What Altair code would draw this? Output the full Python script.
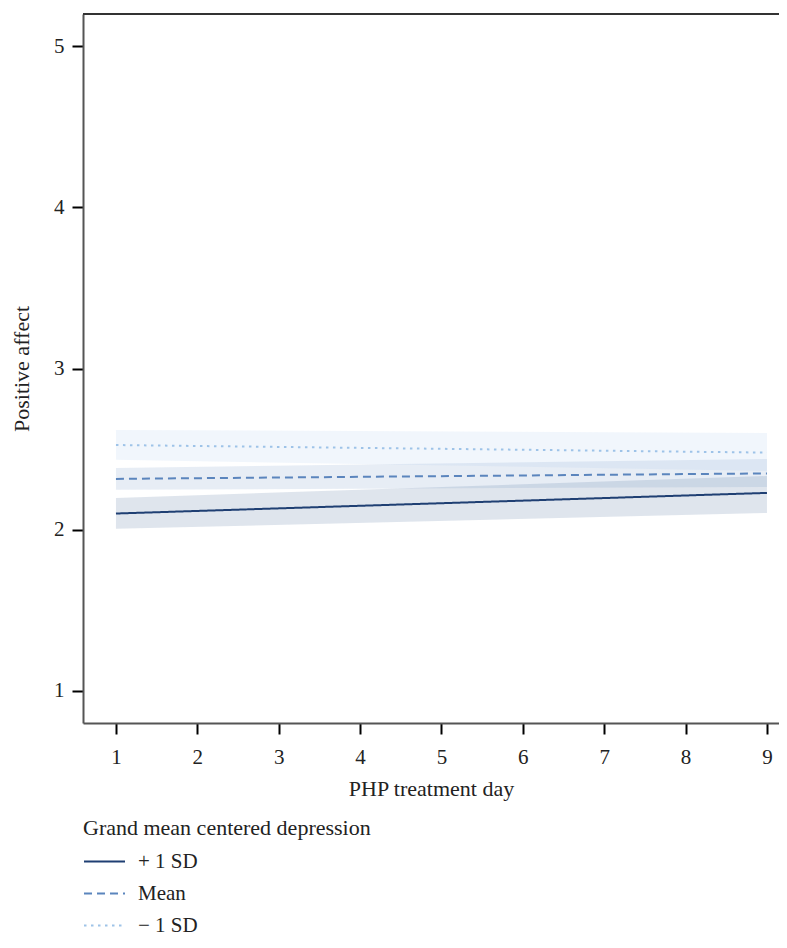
import altair as alt
import pandas as pd

# ---- data ----
days = [1, 9]
groups = ["+ 1 SD", "Mean", "\u2212 1 SD"]

plus_fit = [2.100, 2.228]
plus_lo = [2.005, 2.104]
plus_hi = [2.197, 2.333]

mean_fit = [2.315, 2.349]
mean_lo = [2.247, 2.265]
mean_hi = [2.383, 2.439]

minus_fit = [2.525, 2.478]
minus_lo = [2.433, 2.364]
minus_hi = [2.619, 2.600]

line_colors = ["#1f3f73", "#5b85bd", "#9ec3e8"]
band_colors = ["#2a4f85", "#5b85bd", "#9ec3e8"]
dashes = [[1, 0], [8, 5], [2.5, 4.5]]

rows = []
for g, fit, lo, hi in zip(groups,
                          [plus_fit, mean_fit, minus_fit],
                          [plus_lo, mean_lo, minus_lo],
                          [plus_hi, mean_hi, minus_hi]):
    for d, f, l, h in zip(days, fit, lo, hi):
        rows.append({"day": d, "group": g, "fit": f, "lo": l, "hi": h})
df = pd.DataFrame(rows)

FONT = "Liberation Serif"
W, H = 696, 709
FS = 21
TFS = 22

xscale = alt.Scale(domain=[0.595, 9.148], nice=False, zero=False)
yscale = alt.Scale(domain=[0.8, 5.2], nice=False, zero=False)

xaxis = alt.Axis(values=list(range(1, 10)), format="d", title="PHP treatment day", grid=False,
                 tickSize=11, tickWidth=2, tickColor="black", domainColor="#555555",
                 domainWidth=2, labelFontSize=FS, labelFont=FONT, labelColor="#222222",
                 labelPadding=12, titleFont=FONT, titleFontSize=TFS, titleFontWeight="normal",
                 titleColor="#222222", titlePadding=11)
yaxis = alt.Axis(values=[1, 2, 3, 4, 5], format="d", title="Positive affect", grid=False,
                 tickSize=11, tickWidth=2, tickColor="black", domainColor="#555555",
                 domainWidth=2, labelFontSize=FS, labelFont=FONT, labelColor="#222222",
                 labelPadding=8, titleFont=FONT, titleFontSize=TFS, titleFontWeight="normal",
                 titleColor="#222222", titlePadding=20)

legend = alt.Legend(title="Grand mean centered depression",
                    orient="none", legendX=0, legendY=804,
                    direction="vertical", symbolType="stroke",
                    symbolSize=1681, symbolStrokeWidth=2,
                    labelFont=FONT, labelFontSize=FS, labelColor="#222222",
                    titleFont=FONT, titleFontSize=TFS, titleFontWeight="normal",
                    titleColor="#222222", titlePadding=0, rowPadding=-20,
                    titleLimit=600, labelLimit=300,
                    labelOffset=12, padding=0)

base = alt.Chart(df)

band_layers = []
for i, (g, c) in enumerate(zip(groups, band_colors)):
    if i == 0:
        enc = dict(
            x=alt.X("day:Q", scale=xscale, axis=xaxis),
            y=alt.Y("lo:Q", scale=yscale, axis=yaxis),
            y2="hi:Q",
        )
    else:
        enc = dict(
            x=alt.X("day:Q", scale=xscale),
            y=alt.Y("lo:Q", scale=yscale),
            y2="hi:Q",
        )
    band_layers.append(
        base.transform_filter(alt.datum.group == g)
        .mark_area(opacity=0.15, color=c)
        .encode(**enc)
    )

lines = base.mark_line(strokeWidth=2).encode(
    x=alt.X("day:Q", scale=xscale),
    y=alt.Y("fit:Q", scale=yscale),
    color=alt.Color("group:N", scale=alt.Scale(domain=groups, range=line_colors),
                    sort=groups, legend=legend),
    strokeDash=alt.StrokeDash("group:N", scale=alt.Scale(domain=groups, range=dashes),
                              sort=groups, legend=legend),
)

top_border = alt.Chart(pd.DataFrame({"v": [0]})).mark_rule(color="#333333", strokeWidth=2).encode(
    y=alt.value(0), x=alt.value(0), x2=alt.value(W)
)

chart = alt.layer(*band_layers, lines, top_border).properties(
    width=W, height=H,
    background="white",
    autosize=alt.AutoSizeParams(type="none"),
    padding={"left": 75, "top": 6, "right": 0, "bottom": 213},
).configure_view(stroke=None)

chart.save("out.html", embed_options={"renderer": "svg", "actions": False})
